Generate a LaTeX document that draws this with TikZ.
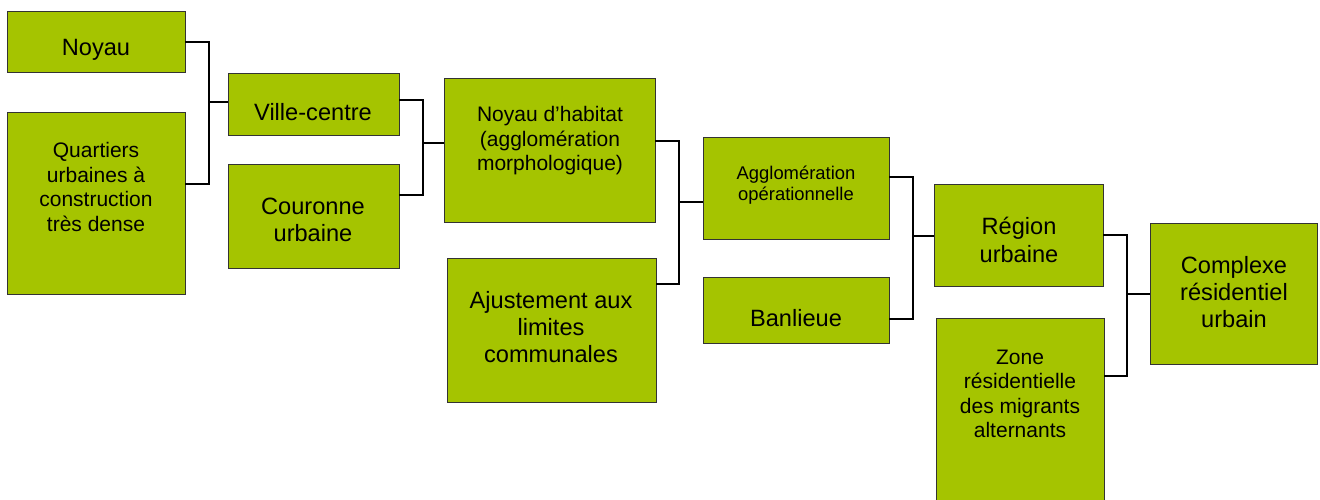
\documentclass[tikz,border=0pt]{standalone}
\usepackage{fontspec}
\setmainfont{Liberation Sans}
\definecolor{boxgreen}{HTML}{A5C400}
\definecolor{boxline}{HTML}{333333}
\tikzset{
  box/.style={draw=boxline, line width=0.9pt, fill=boxgreen, inner sep=0pt, outer sep=0pt, anchor=north west},
  txt/.style={align=center, inner sep=0pt, text=black},
  big/.style={txt, font=\fontsize{23.6}{27.2}\selectfont},
  mid/.style={txt, font=\fontsize{21}{24.5}\selectfont},
  small/.style={txt, font=\fontsize{18.4}{21.5}\selectfont},
  conn/.style={draw=black, line width=1.1pt}
}
\begin{document}
\begin{tikzpicture}[x=1pt,y=-1pt]
\useasboundingbox (0,0) rectangle (1320,500);
% boxes
\node[box, minimum width=178pt, minimum height=61pt] (noyau) at (7,11) {};
\node[box, minimum width=178pt, minimum height=182pt] (quart) at (7,112) {};
\node[box, minimum width=171pt, minimum height=62pt] (ville) at (228,73) {};
\node[box, minimum width=171pt, minimum height=104pt] (cour) at (228,164) {};
\node[box, minimum width=211pt, minimum height=144pt] (nhab) at (444,78) {};
\node[box, minimum width=209pt, minimum height=144pt] (ajust) at (447,258) {};
\node[box, minimum width=186pt, minimum height=102pt] (agglo) at (703,137) {};
\node[box, minimum width=186pt, minimum height=66pt] (banl) at (703,277) {};
\node[box, minimum width=169pt, minimum height=102pt] (region) at (934,184) {};
\node[box, minimum width=168pt, minimum height=190pt] (zone) at (936,318) {};
\node[box, minimum width=167pt, minimum height=141pt] (compl) at (1150,223) {};
% texts
\node[big] (tnoyau) at (96,50) {Noyau};
\node[mid] (tquart) at (96,187) {Quartiers\\urbaines à\\construction\\très dense};
\node[big] (tville) at (313,112) {Ville-centre};
\node[big] (tcour) at (313,220) {Couronne\\urbaine};
\node[mid] (tnhab) at (550,141) {Noyau d’habitat\\(agglomération\\morphologique)};
\node[big] (tajust) at (551,327) {Ajustement aux\\limites\\communales};
\node[small] (tagglo) at (796,185) {Agglomération\\opérationnelle};
\node[big] (tbanl) at (796,318) {Banlieue};
\node[big] (tregion) at (1019,240) {Région\\urbaine};
\node[mid] (tzone) at (1020,394) {Zone\\résidentielle\\des migrants\\alternants};
\node[big] (tcompl) at (1234,292) {Complexe\\résidentiel\\urbain};
% junctions
\coordinate (j1) at (209,102);
\coordinate (j2) at (423,143);
\coordinate (j3) at (679,202);
\coordinate (j4) at (913,236);
\coordinate (j5) at (1127,294);
% connectors
\draw[conn] (noyau.east |- 0,42) -| (j1);
\draw[conn] (quart.east |- 0,184) -| (j1);
\draw[conn] (j1) -- (ville.west |- j1);
\draw[conn] (ville.east |- 0,100) -| (j2);
\draw[conn] (cour.east |- 0,195) -| (j2);
\draw[conn] (j2) -- (nhab.west |- j2);
\draw[conn] (nhab.east |- 0,141) -| (j3);
\draw[conn] (ajust.east |- 0,284) -| (j3);
\draw[conn] (j3) -- (agglo.west |- j3);
\draw[conn] (agglo.east |- 0,177) -| (j4);
\draw[conn] (banl.east |- 0,319) -| (j4);
\draw[conn] (j4) -- (region.west |- j4);
\draw[conn] (region.east |- 0,235) -| (j5);
\draw[conn] (zone.east |- 0,376) -| (j5);
\draw[conn] (j5) -- (compl.west |- j5);
\end{tikzpicture}
\end{document}
